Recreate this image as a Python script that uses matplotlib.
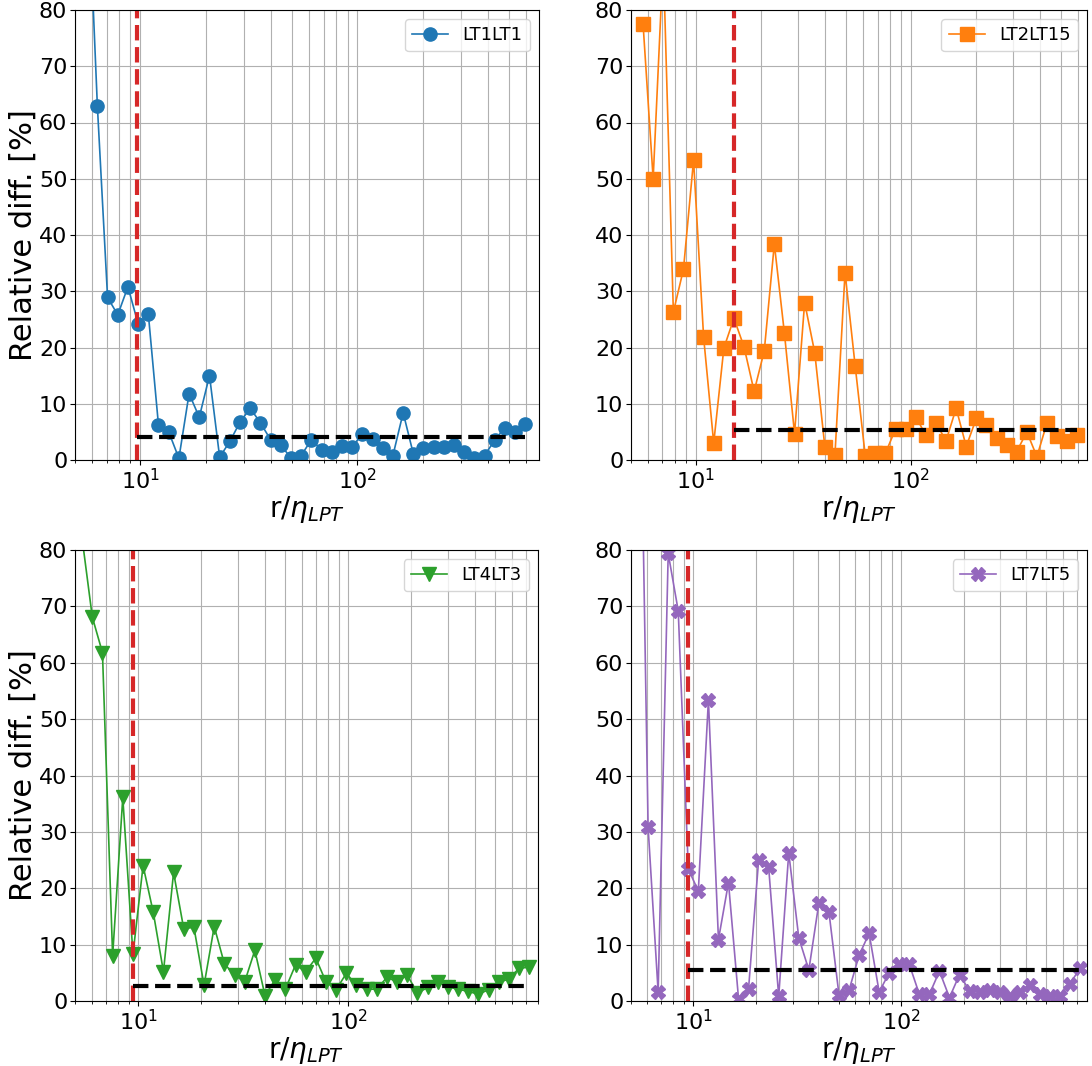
import matplotlib
matplotlib.use("Agg")
import matplotlib.pyplot as plt

# Separation r/eta_LPT for the LT1LT1 and LT2LT15 pairs (44 log-spaced bins)
r_top = [5.689, 6.338, 7.063, 7.869, 8.767, 9.767, 10.88, 12.12, 13.51, 15.05,
         16.77, 18.68, 20.82, 23.19, 25.84, 28.79, 32.08, 35.74, 39.82, 44.37,
         49.43, 55.07, 61.36, 68.36, 76.17, 84.86, 94.56, 105.4, 117.4, 130.8,
         145.7, 162.4, 180.9, 201.5, 224.5, 250.2, 278.7, 310.6, 346.0, 385.5,
         429.5, 478.6, 533.2, 594.1]

# Separation r/eta_LPT for the LT4LT3 and LT7LT5 pairs (45 log-spaced bins)
r_bottom = [5.408, 6.045, 6.757, 7.554, 8.444, 9.440, 10.55, 11.80, 13.19, 14.74,
            16.48, 18.42, 20.59, 23.02, 25.73, 28.76, 32.15, 35.94, 40.18, 44.91,
            50.21, 56.13, 62.74, 70.14, 78.40, 87.64, 97.98, 109.5, 122.4, 136.9,
            153.0, 171.0, 191.2, 213.7, 238.9, 267.1, 298.5, 333.7, 373.1, 417.0,
            466.2, 521.2, 582.6, 651.3, 728.1]

# Relative difference [%]
lt1lt1 = [106, 63.0, 28.9, 25.8, 30.8, 24.2, 26.0, 6.2, 5.0, 0.3,
          11.8, 7.6, 15.0, 0.5, 3.3, 6.75, 9.2, 6.6, 3.6, 2.7,
          0.3, 0.8, 3.6, 1.8, 1.5, 2.5, 2.4, 4.6, 3.7, 2.2,
          0.8, 8.4, 1.1, 2.1, 2.4, 2.4, 2.7, 1.4, 0.3, 0.8,
          3.6, 5.75, 4.9, 6.4]

lt2lt15 = [77.5, 50.0, 89.0, 26.3, 33.9, 53.3, 21.8, 3.0, 19.9, 25.2,
           20.1, 12.2, 19.4, 38.4, 22.5, 4.7, 28.0, 19.1, 2.4, 0.9,
           33.3, 16.8, 0.8, 1.2, 1.2, 5.5, 5.5, 7.7, 4.4, 6.6,
           3.4, 9.2, 2.4, 7.4, 6.2, 4.0, 2.7, 1.5, 5.0, 0.6,
           6.6, 4.3, 3.3, 4.4]

lt4lt3 = [82.0, 68.1, 61.8, 8.0, 36.1, 8.3, 24.0, 15.7, 5.2, 22.8,
          12.8, 13.1, 2.8, 13.2, 6.6, 4.6, 3.4, 9.0, 0.95, 3.8,
          2.1, 6.4, 5.2, 7.6, 3.4, 2.0, 4.9, 2.8, 2.1, 2.1,
          4.2, 3.4, 4.6, 1.4, 2.4, 3.3, 2.5, 2.1, 1.7, 1.2,
          2.0, 3.3, 3.9, 5.8, 6.0]

lt7lt5 = [137.0, 30.8, 1.6, 79.4, 69.2, 23.4, 19.5, 53.4, 10.9, 21.0,
          0.4, 2.2, 25.0, 23.7, 0.8, 26.3, 11.2, 5.5, 17.4, 15.8,
          1.1, 1.9, 8.1, 12.0, 1.6, 5.0, 6.5, 6.5, 1.2, 1.2,
          5.3, 0.6, 4.7, 1.8, 1.6, 1.9, 1.6, 0.8, 1.6, 2.8,
          1.2, 0.8, 0.9, 3.1, 5.8]

labels = ["LT1LT1", "LT2LT15", "LT4LT3", "LT7LT5"]
cutoffs = [9.7, 15.1, 9.4, 9.4]          # start of the plateau (red line)
plateau = [4.1, 5.3, 2.7, 5.5]           # mean difference beyond the cutoff
xmax = [686, 659, 802, 786]

series = [(r_top, lt1lt1), (r_top, lt2lt15), (r_bottom, lt4lt3), (r_bottom, lt7lt5)]
colors = ["#1f77b4", "#ff7f0e", "#2ca02c", "#9467bd"]
markers = ["o", "s", "v", "X"]

W, H = 1092, 1066
fig = plt.figure(figsize=(W / 100, H / 100), dpi=100)
rects_px = [(75, 10, 539, 460), (631, 10, 1087, 460),
            (75, 550, 538, 1001), (631, 550, 1087, 1001)]

for k, ((r, d), lab) in enumerate(zip(series, labels)):
    x0, y0, x1, y1 = rects_px[k]
    ax = fig.add_axes([x0 / W, 1 - y1 / H, (x1 - x0) / W, (y1 - y0) / H])
    ax.plot(r, d, color=colors[k], marker=markers[k], markersize=9.5,
            linewidth=1.2, label=lab)
    ax.axvline(cutoffs[k], color="#d62728", linestyle="--", linewidth=3)
    ax.hlines(plateau[k], cutoffs[k], r[-1], colors="black",
              linestyles="--", linewidth=3)
    ax.set_xscale("log")
    ax.set_xlim(5, xmax[k])
    ax.set_ylim(0, 80)
    ax.set_yticks(range(0, 81, 10))
    ax.grid(True, which="both", color="#b0b0b0", linewidth=0.8)
    ax.tick_params(axis="both", which="major", labelsize=16, pad=2)
    ax.set_xlabel(r"r/$\eta_{LPT}$", fontsize=20, labelpad=1)
    if k % 2 == 0:
        ax.set_ylabel("Relative diff. [%]", fontsize=22, labelpad=1)
    ax.legend(loc="upper right", fontsize=13)

fig.savefig("out.png", dpi=100)
